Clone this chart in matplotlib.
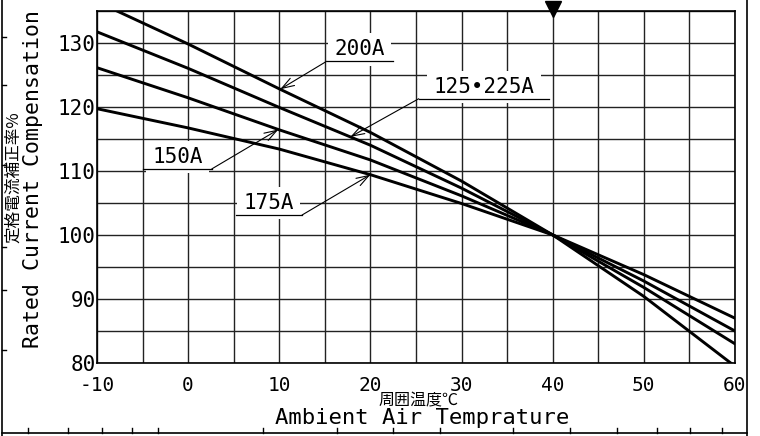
import matplotlib.pyplot as plt
from matplotlib.lines import Line2D
import numpy as np

# ambient temperature (deg C) and rated current compensation (%)
temps = [-10, 0, 10, 20, 30, 40, 50, 60]
comp_200a = [136.4, 129.8, 122.8, 116.0, 108.4, 100.0, 90.4, 79.5]
comp_125_225a = [131.7, 126.0, 119.9, 114.0, 107.3, 100.0, 91.8, 83.0]
comp_150a = [126.1, 121.4, 116.4, 111.7, 106.1, 100.0, 92.8, 85.0]
comp_175a = [119.7, 116.7, 113.4, 109.4, 104.9, 100.0, 93.8, 87.0]

series_names = ['200A', '125•225A', '150A', '175A']
series_values = [comp_200a, comp_125_225a, comp_150a, comp_175a]

x_ticks = [-10, 0, 10, 20, 30, 40, 50, 60]
x_ticklabels = ['-10', '0', '10', '20', '30', '40', '50', '60']
y_ticks = [80, 90, 100, 110, 120, 130]
y_ticklabels = ['80', '90', '100', '110', '120', '130']
ref_temp = 40

MONO = 'DejaVu Sans Mono'
CJK = ['Noto Sans CJK JP', 'DejaVu Sans']

# label layout: (underline x0, x1, underline y, leader from left/right end, arrow target x)
label_layout = {
    '200A': (15.2, 22.5, 127.1, 'left', 10.1),
    '125•225A': (25.3, 39.6, 121.25, 'left', 17.8),
    '150A': (-4.95, 2.6, 110.3, 'right', 9.9),
    '175A': (5.2, 12.5, 103.1, 'right', 20.0),
}

fig = plt.figure(figsize=(7.6, 4.36), dpi=100)
ax = fig.add_axes([0.1276, 0.1674, 0.8394, 0.8081])

ax.set_xlim(-10, 60)
ax.set_ylim(80, 135)
ax.set_xticks(np.arange(-10, 61, 5), minor=True)
ax.set_yticks(np.arange(80, 136, 5), minor=True)
ax.set_xticks(x_ticks)
ax.set_xticklabels(x_ticklabels, fontsize=14, family=MONO)
ax.set_yticks(y_ticks)
ax.set_yticklabels(y_ticklabels, fontsize=15, family=MONO)
ax.tick_params(axis='both', which='both', length=0)
ax.tick_params(axis='x', pad=9)
ax.tick_params(axis='y', pad=1)
ax.grid(True, which='both', color='#222222', linewidth=1.0, zorder=1)
ax.set_axisbelow(True)
for s in ax.spines.values():
    s.set_linewidth(1.2)
    s.set_color('black')

for name, vals in zip(series_names, series_values):
    ax.plot(temps, vals, color='black', linewidth=2.1, zorder=2)

for name, vals in zip(series_names, series_values):
    x0, x1, yu, side, tx = label_layout[name]
    ty = np.interp(tx, temps, vals)
    ax.text((x0 + x1) / 2, yu + 0.3, name, ha='center', va='bottom', fontsize=15, family=MONO,
            bbox=dict(boxstyle='square,pad=0.3', fc='white', ec='none'), zorder=3)
    ax.plot([x0, x1], [yu, yu], color='black', linewidth=0.9, zorder=4)
    sx = x0 if side == 'left' else x1
    ax.annotate('', xy=(tx, ty), xytext=(sx, yu),
                arrowprops=dict(arrowstyle='->,head_length=0.9,head_width=0.3',
                                color='black', lw=0.8, shrinkA=0, shrinkB=0),
                zorder=4)

# reference temperature marker on top
ax.plot([ref_temp], [135.3], marker='v', markersize=11, color='black', clip_on=False, zorder=5)

# axis titles
fig.text(0.0434, 0.589, 'Rated Current Compensation', rotation=90, ha='center', va='center',
         fontsize=15.5, family=MONO)
fig.text(0.018, 0.594, '定格電流補正率%', rotation=90, ha='center', va='center', fontsize=12,
         family=CJK)
fig.text(0.550, 0.081, '周囲温度℃', ha='center', va='center', fontsize=11.5, family=CJK)
fig.text(0.555, 0.041, 'Ambient Air Temprature', ha='center', va='center', fontsize=16,
         family=MONO)

# drawing frame around the chart
W, H = 760.0, 436.0
fig.add_artist(Line2D([2 / W, 2 / W], [0, 1], color='black', lw=1.2))
fig.add_artist(Line2D([747 / W, 747 / W], [0, 1], color='black', lw=1.2))
fig.add_artist(Line2D([2 / W, 747 / W], [1 - 433 / H, 1 - 433 / H], color='black', lw=1.2))
for px in [28, 68, 102, 132, 158, 263, 337, 393, 440, 513, 570, 617, 657, 690, 722]:
    fig.add_artist(Line2D([px / W, px / W], [1 - 433 / H, 1 - 428 / H], color='black', lw=1.0))
for py in [37, 85, 165, 247, 290, 350]:
    fig.add_artist(Line2D([2 / W, 6 / W], [1 - py / H, 1 - py / H], color='black', lw=1.0))

fig.savefig('out.png', dpi=100)
